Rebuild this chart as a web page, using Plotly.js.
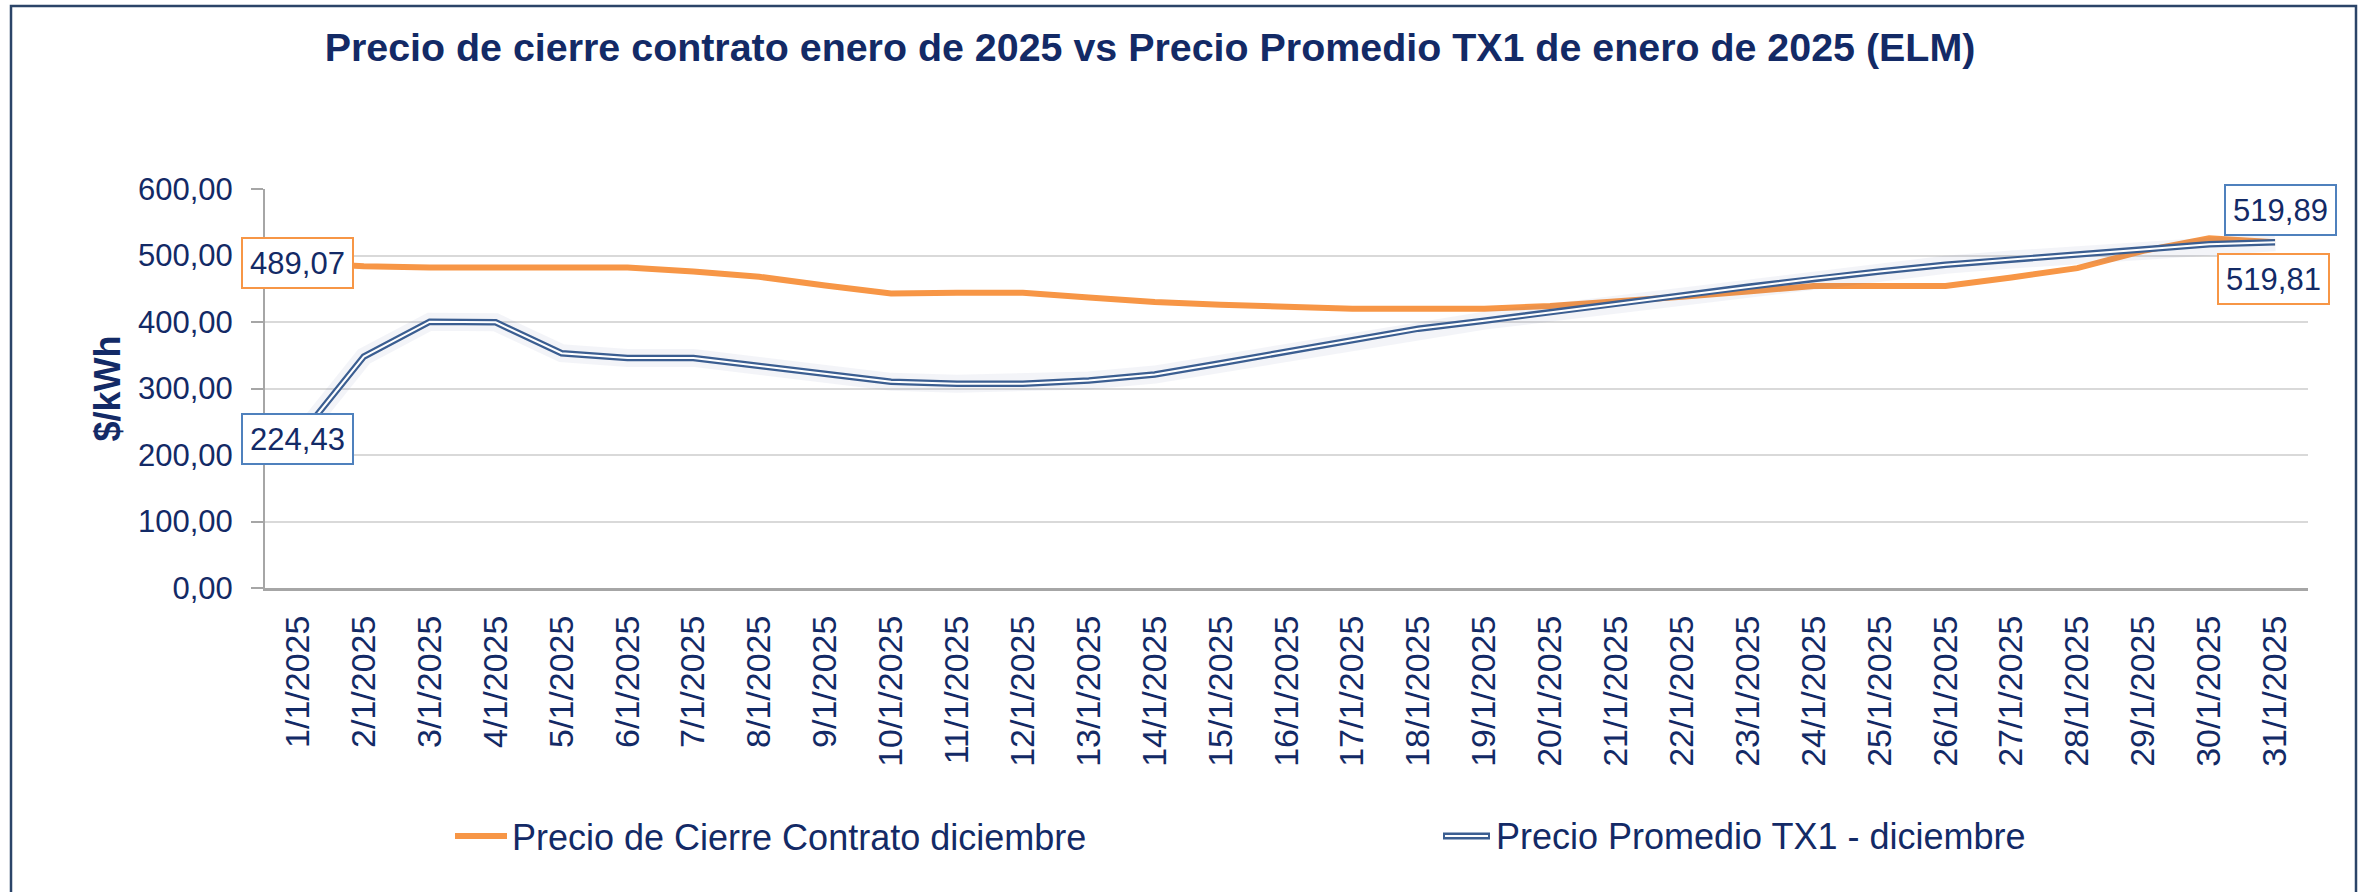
<!DOCTYPE html>
<html>
<head>
<meta charset="utf-8">
<script src="https://cdn.plot.ly/plotly-3.0.1.min.js"></script>
<style>
  html, body { margin: 0; padding: 0; background: #ffffff; }
  #chart { width: 2362px; height: 892px; }
</style>
</head>
<body>
<div id="chart"></div>
<script>
// ---- data ----
const categories = [
  "1/1/2025","2/1/2025","3/1/2025","4/1/2025","5/1/2025","6/1/2025","7/1/2025",
  "8/1/2025","9/1/2025","10/1/2025","11/1/2025","12/1/2025","13/1/2025","14/1/2025",
  "15/1/2025","16/1/2025","17/1/2025","18/1/2025","19/1/2025","20/1/2025","21/1/2025",
  "22/1/2025","23/1/2025","24/1/2025","25/1/2025","26/1/2025","27/1/2025","28/1/2025",
  "29/1/2025","30/1/2025","31/1/2025"
];
const precioCierre = [
  489.07, 484, 482, 482, 482, 482, 476, 468, 455, 443, 444, 444, 437, 430, 426, 423,
  420, 420, 420, 424, 430, 438, 446, 454, 454, 454, 467, 481, 507, 526, 519.81
];
const precioTX1 = [
  224.43, 348, 400.5, 399.5, 353, 346, 346, 334, 322, 310, 307, 307, 312, 321, 338, 355,
  373, 390, 402, 414, 427, 440, 453, 465, 476, 486, 494, 501, 509, 517, 519.89
];
const seriesNames = ["Precio de Cierre Contrato diciembre", "Precio Promedio TX1 - diciembre"];
const yTickValues = [0, 100, 200, 300, 400, 500, 600];
const chartTitle = "Precio de cierre contrato enero de 2025 vs Precio Promedio TX1 de enero de 2025 (ELM)";
const yTitle = "$/kWh";

// ---- style ----
const NAVY = "#132a66";
const ORANGE = "#F79646";
const BLUE = "#3B5E91";
const BOXBLUE = "#4F81BD";
const FONT = "Liberation Sans, Arial, sans-serif";

// plot area in pixels
const L = 265, R = 2308, T = 189, B = 588;
const px2x = p => (p - L) / (R - L);
const px2y = p => (B - p) / (B - T);

const fmt = v => v.toFixed(2).replace(".", ",");
const last = categories.length - 1;

const traces = [
  { x: categories, y: precioCierre, type: "scatter", mode: "lines", name: seriesNames[0],
    line: { color: ORANGE, width: 6 }, legend: "legend", hoverinfo: "skip" },
  { x: categories, y: precioTX1, type: "scatter", mode: "lines", showlegend: false,
    line: { color: "rgba(80,100,150,0.07)", width: 18 }, hoverinfo: "skip" },
  { x: categories, y: precioTX1, type: "scatter", mode: "lines", name: seriesNames[1],
    line: { color: BLUE, width: 6.5 }, showlegend: false, hoverinfo: "skip" },
  { x: categories, y: precioTX1, type: "scatter", mode: "lines", showlegend: false,
    line: { color: "#ffffff", width: 2 }, hoverinfo: "skip" }
];

const boxAnn = (xi, yv, color, xs, ys) => ({
  x: categories[xi], y: yv, xref: "x", yref: "y", text: fmt(yv), showarrow: false,
  xshift: xs, yshift: ys, bgcolor: "#ffffff", bordercolor: color, borderwidth: 2,
  borderpad: 7, width: 95, height: 34, align: "center",
  font: { family: FONT, size: 31, color: NAVY }
});

// legend entry for the double-line series (drawn with shapes + text)
const LEG_Y = px2y(836);
const blueLegendShapes = [
  { type: "line", xref: "paper", yref: "paper", x0: px2x(1443), x1: px2x(1490), y0: LEG_Y, y1: LEG_Y,
    line: { color: BLUE, width: 7 } },
  { type: "line", xref: "paper", yref: "paper", x0: px2x(1445), x1: px2x(1488), y0: LEG_Y, y1: LEG_Y,
    line: { color: "#ffffff", width: 2 } }
];
const blueLegendText = {
  xref: "paper", yref: "paper", x: px2x(1494), y: LEG_Y, xanchor: "left", yanchor: "middle",
  text: seriesNames[1], showarrow: false, font: { family: FONT, size: 36, color: NAVY }
};

const layout = {
  width: 2362, height: 892,
  paper_bgcolor: "#ffffff", plot_bgcolor: "#ffffff",
  separators: ",.",
  margin: { l: L, r: 2362 - R, t: T, b: 892 - B, pad: 0 },
  title: {
    text: chartTitle, xref: "container", yref: "container",
    x: 1150 / 2362, xanchor: "center", y: 1 - 47 / 892, yanchor: "middle",
    font: { family: FONT, size: 39.4, color: NAVY, weight: "bold" }
  },
  xaxis: {
    type: "category", range: [-0.5, categories.length - 0.5],
    tickangle: -90, tickfont: { family: FONT, size: 34, color: NAVY },
    showline: true, linecolor: "#a6a6a6", linewidth: 3,
    showgrid: false, zeroline: false, ticks: "", ticklabelstandoff: 11, fixedrange: true
  },
  yaxis: {
    range: [0, 600], tickvals: yTickValues, tickformat: ".2f",
    tickfont: { family: FONT, size: 31, color: NAVY },
    showgrid: true, gridcolor: "#d9d9d9", gridwidth: 2,
    showline: true, linecolor: "#a6a6a6", linewidth: 2,
    ticks: "outside", ticklen: 12, tickwidth: 2, tickcolor: "#a6a6a6",
    ticklabelstandoff: 12, zeroline: false, fixedrange: true,
    title: { text: yTitle, standoff: 6, font: { family: FONT, size: 36, color: NAVY, weight: "bold" } }
  },
  legend: {
    orientation: "h", x: px2x(450), xanchor: "left", y: LEG_Y, yanchor: "middle",
    font: { family: FONT, size: 36, color: NAVY }, bgcolor: "rgba(0,0,0,0)", itemwidth: 52
  },
  annotations: [
    boxAnn(0, precioCierre[0], ORANGE, 0, 0),
    boxAnn(0, precioTX1[0], BOXBLUE, 0, 0),
    boxAnn(last, precioTX1[last], BOXBLUE, 5, 32),
    boxAnn(last, precioCierre[last], ORANGE, -2, -37),
    blueLegendText
  ],
  shapes: [
    { type: "path", xref: "paper", yref: "paper",
      path: `M ${px2x(11)},${px2y(900)} L ${px2x(11)},${px2y(6)} L ${px2x(2356)},${px2y(6)} L ${px2x(2356)},${px2y(900)}`,
      line: { color: "#2b4468", width: 2.5 } },
    ...blueLegendShapes
  ],
  showlegend: true
};

Plotly.newPlot("chart", traces, layout, { displayModeBar: false, staticPlot: true });
</script>
</body>
</html>
